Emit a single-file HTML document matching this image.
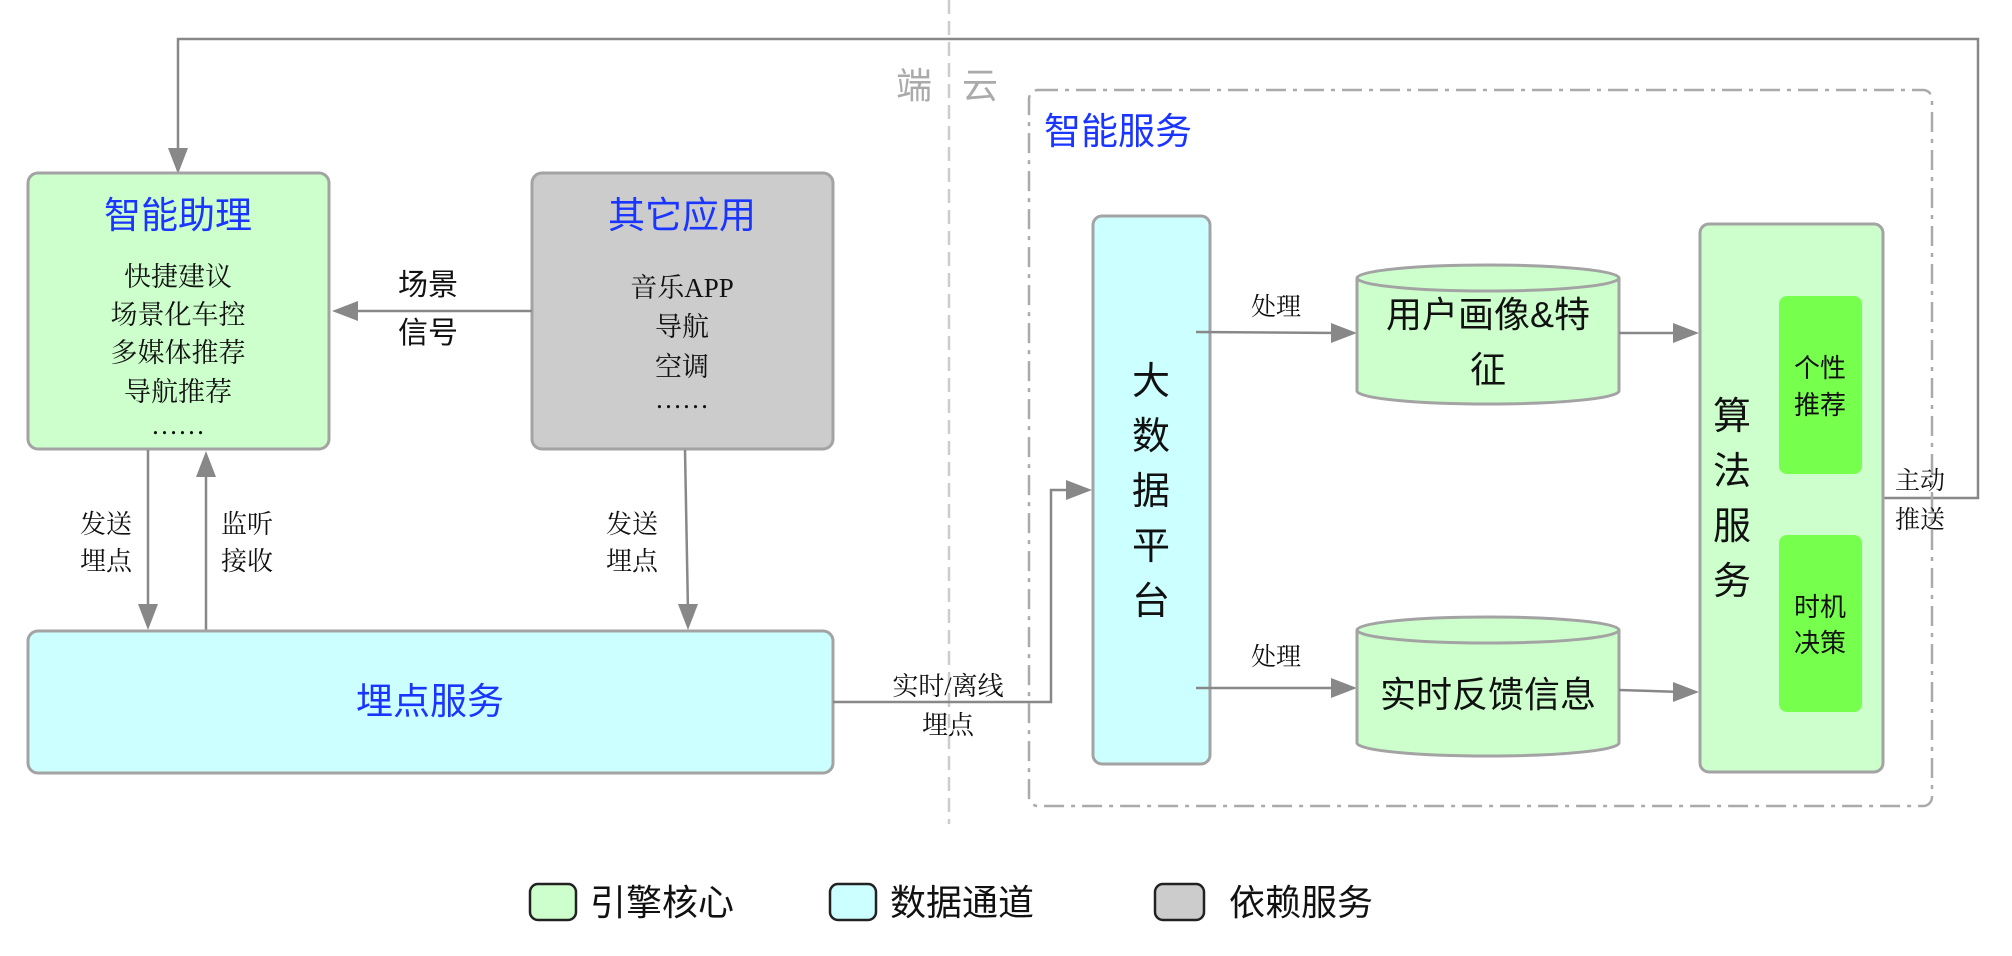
<!DOCTYPE html>
<html><head><meta charset="utf-8"><style>
html,body{margin:0;padding:0;background:#fff;}
svg{display:block;}
.s{font-family:"Liberation Sans","Noto Sans CJK SC",sans-serif;}
.r{font-family:"Liberation Serif","Noto Serif CJK SC",serif;}
</style></head><body>
<svg width="2012" height="956" viewBox="0 0 2012 956" xmlns="http://www.w3.org/2000/svg">
<defs>
<marker id="a" viewBox="0 0 10 10" refX="10" refY="5" markerWidth="8" markerHeight="8" markerUnits="userSpaceOnUse" orient="auto">
</marker>
</defs>
<style>
.ln{stroke:#888;stroke-width:2.5;fill:none;}
.ah{fill:#888;}
.bx{stroke:#a3a3a3;stroke-width:3;}
.blue{fill:#1a35ff;}
</style>

<!-- divider -->
<line x1="949" y1="0" x2="949" y2="824" stroke="#ccc" stroke-width="2.5" stroke-dasharray="14,7"/>
<text class="s" x="914" y="98" font-size="36" fill="#aaa" text-anchor="middle">端</text>
<text class="s" x="980" y="98" font-size="36" fill="#aaa" text-anchor="middle">云</text>

<!-- feedback line -->
<polyline class="ln" points="1883,498 1978,498 1978,39 178,39 178,155" stroke="#a0a0a0"/>
<polygon class="ah" points="168,148 188,148 178,174" fill="#999"/>

<!-- 智能助理 -->
<rect class="bx" x="28" y="173" width="301" height="276" rx="10" fill="#ccffcc"/>
<text class="s blue" x="178" y="228" font-size="37" text-anchor="middle">智能助理</text>
<g class="r" font-size="27" text-anchor="middle" fill="#111">
<text x="178" y="286">快捷建议</text>
<text x="178" y="324">场景化车控</text>
<text x="178" y="362">多媒体推荐</text>
<text x="178" y="401">导航推荐</text>
<text x="178" y="434">……</text>
</g>

<!-- 其它应用 -->
<rect class="bx" x="532" y="173" width="301" height="276" rx="10" fill="#cccccc"/>
<text class="s blue" x="682" y="228" font-size="37" text-anchor="middle">其它应用</text>
<g class="r" font-size="27" text-anchor="middle" fill="#111">
<text x="682" y="297">音乐APP</text>
<text x="682" y="336">导航</text>
<text x="682" y="376">空调</text>
<text x="682" y="408">……</text>
</g>

<!-- 场景信号 arrow -->
<line class="ln" x1="532" y1="311" x2="350" y2="311"/>
<polygon class="ah" points="332,311 358,301 358,321"/>
<text class="s" x="428" y="295" font-size="30" text-anchor="middle" fill="#111">场景</text>
<text class="s" x="428" y="343" font-size="30" text-anchor="middle" fill="#111">信号</text>

<!-- down/up arrows -->
<line class="ln" x1="148" y1="450" x2="148" y2="612"/>
<polygon class="ah" points="138,604 158,604 148,630"/>
<line class="ln" x1="206" y1="631" x2="206" y2="470"/>
<polygon class="ah" points="196,477 216,477 206,451"/>
<line class="ln" x1="685" y1="450" x2="688" y2="612"/>
<polygon class="ah" points="678,604 698,604 688,630"/>
<g class="r" font-size="26" fill="#111" text-anchor="middle">
<text x="106" y="533">发送</text><text x="106" y="570">埋点</text>
<text x="247" y="533">监听</text><text x="247" y="570">接收</text>
<text x="632" y="533">发送</text><text x="632" y="570">埋点</text>
<text x="948" y="695">实时/离线</text><text x="948" y="734">埋点</text>
</g>

<!-- 埋点服务 -->
<rect class="bx" x="28" y="631" width="805" height="142" rx="10" fill="#ccffff"/>
<text class="s blue" x="430" y="714" font-size="37" text-anchor="middle">埋点服务</text>

<!-- connector to big data -->
<polyline class="ln" points="833,702 1051,702 1051,490 1075,490"/>
<polygon class="ah" points="1092,490 1066,480 1066,500"/>

<!-- 智能服务 box -->
<rect x="1029" y="90" width="903" height="716" rx="9" fill="none" stroke="#aaa" stroke-width="2.5" stroke-dasharray="20,7,4,7"/>
<text class="s blue" x="1044" y="144" font-size="37">智能服务</text>

<!-- 大数据平台 -->
<rect class="bx" x="1093" y="216" width="117" height="548" rx="9" fill="#ccffff"/>
<g class="s" font-size="38" text-anchor="middle" fill="#111">
<text x="1151" y="394">大</text><text x="1151" y="449">数</text><text x="1151" y="504">据</text><text x="1151" y="559">平</text><text x="1151" y="614">台</text>
</g>

<!-- 处理 arrows -->
<line class="ln" x1="1196" y1="332" x2="1340" y2="333"/>
<polygon class="ah" points="1357,333 1331,323 1331,343"/>
<line class="ln" x1="1196" y1="688" x2="1340" y2="688"/>
<polygon class="ah" points="1357,688 1331,678 1331,698"/>
<text class="r" x="1276" y="315" font-size="25" text-anchor="middle" fill="#111">处理</text>
<text class="r" x="1276" y="665" font-size="25" text-anchor="middle" fill="#111">处理</text>

<!-- cylinders -->
<g stroke="#a3a3a3" stroke-width="3" fill="#ccffcc">
<path d="M1357,278 L1357,391 A131,13 0 0 0 1619,391 L1619,278"/>
<ellipse cx="1488" cy="278" rx="131" ry="13"/>
<path d="M1357,630 L1357,743 A131,13 0 0 0 1619,743 L1619,630"/>
<ellipse cx="1488" cy="630" rx="131" ry="13"/>
</g>
<g class="s" font-size="36" text-anchor="middle" fill="#111">
<text x="1488" y="327">用户画像&amp;特</text>
<text x="1488" y="382">征</text>
<text x="1488" y="707">实时反馈信息</text>
</g>

<!-- cyl -> algo -->
<line class="ln" x1="1619" y1="333" x2="1682" y2="333"/>
<polygon class="ah" points="1699,333 1673,323 1673,343"/>
<line class="ln" x1="1619" y1="690" x2="1682" y2="692"/>
<polygon class="ah" points="1699,692 1673,682 1673,702"/>

<!-- 算法服务 -->
<rect class="bx" x="1700" y="224" width="183" height="548" rx="9" fill="#ccffcc"/>
<g class="s" font-size="38" text-anchor="middle" fill="#111">
<text x="1732" y="429">算</text><text x="1732" y="484">法</text><text x="1732" y="539">服</text><text x="1732" y="594">务</text>
</g>
<rect x="1779" y="296" width="83" height="178" rx="8" fill="#77ff4d"/>
<rect x="1779" y="535" width="83" height="177" rx="8" fill="#77ff4d"/>
<g class="s" font-size="26" text-anchor="middle" fill="#111">
<text x="1820" y="377">个性</text><text x="1820" y="414">推荐</text>
<text x="1820" y="616">时机</text><text x="1820" y="652">决策</text>
</g>
<text class="r" x="1920" y="489" font-size="25" text-anchor="middle" fill="#111">主动</text>
<text class="r" x="1920" y="528" font-size="25" text-anchor="middle" fill="#111">推送</text>

<!-- legend -->
<g stroke="#222" stroke-width="2.5">
<rect x="530" y="884" width="46" height="36" rx="8" fill="#ccffcc"/>
<rect x="830" y="884" width="46" height="36" rx="8" fill="#ccffff"/>
<rect x="1155" y="884" width="49" height="36" rx="8" fill="#cccccc"/>
</g>
<g class="s" font-size="36" fill="#111">
<text x="590" y="915">引擎核心</text>
<text x="890" y="915">数据通道</text>
<text x="1229" y="915">依赖服务</text>
</g>
</svg>
</body></html>
